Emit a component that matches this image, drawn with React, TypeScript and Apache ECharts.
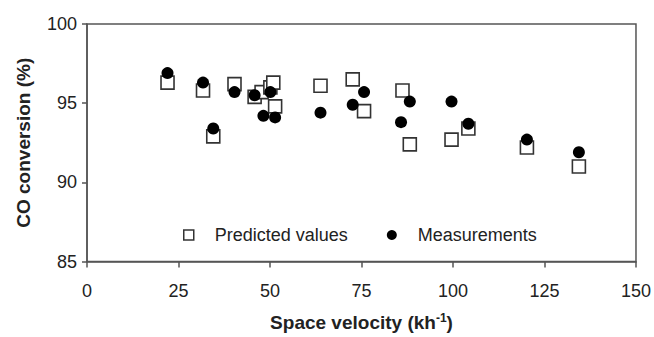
import React, { useEffect, useRef } from "react";
import * as echarts from "echarts";

const predictedX = [22.0, 31.7, 34.5, 40.3, 45.8, 47.7, 50.1, 50.9, 51.4, 63.8, 72.6, 75.7, 86.2, 88.2, 99.6, 104.2, 120.2, 134.4];
const predictedY = [96.3, 95.8, 92.9, 96.2, 95.4, 95.7, 96.0, 96.3, 94.8, 96.1, 96.5, 94.5, 95.8, 92.4, 92.7, 93.4, 92.2, 91.0];
const measuredX = [22.0, 31.7, 34.5, 40.3, 45.8, 48.2, 50.1, 51.4, 63.8, 72.6, 75.7, 85.8, 88.2, 99.6, 104.2, 120.2, 134.4];
const measuredY = [96.9, 96.3, 93.4, 95.7, 95.5, 94.2, 95.7, 94.1, 94.4, 94.9, 95.7, 93.8, 95.1, 95.1, 93.7, 92.7, 91.9];

const seriesNames = ["Predicted values", "Measurements"];
const xAxisTitle = "Space velocity (kh";
const xAxisSup = "-1";
const yAxisTitle = "CO conversion (%)";

const FONT = "'Liberation Sans', Arial, sans-serif";
const AXIS = "#555";
const TXT = "#222";

export default function App() {
  const ref = useRef<HTMLDivElement>(null);
  useEffect(() => {
    if (!ref.current) return;
    const chart = echarts.init(ref.current, undefined, { renderer: "svg" });
    const pred = predictedX.map((x, i) => [x, predictedY[i]]);
    const meas = measuredX.map((x, i) => [x, measuredY[i]]);
    chart.setOption({
      animation: false,
      backgroundColor: "#fff",
      textStyle: { fontFamily: FONT },
      grid: {
        left: 87,
        right: 14,
        top: 24,
        bottom: 70,
        show: true,
        borderColor: AXIS,
        borderWidth: 1.5,
        backgroundColor: "transparent",
      },
      legend: {
        left: 178,
        top: 221,
        itemWidth: 10,
        itemHeight: 10,
        itemGap: 39,
        textStyle: { fontSize: 18, color: TXT, fontFamily: FONT, padding: [0, 0, 0, 16] },
        data: [
          { name: seriesNames[0], icon: "rect", itemStyle: { color: "#fff", borderColor: "#333", borderWidth: 1.5 } },
          { name: seriesNames[1], icon: "circle", itemStyle: { color: "#000", borderWidth: 0 } },
        ],
      },
      xAxis: {
        type: "value",
        min: 0,
        max: 150,
        interval: 25,
        splitLine: { show: false },
        axisLine: { show: true, lineStyle: { color: AXIS, width: 1.5 } },
        axisTick: { show: true, inside: false, length: 6, lineStyle: { color: AXIS, width: 1.5 } },
        axisLabel: { fontSize: 18, color: TXT, margin: 20, fontFamily: FONT },
        name: `{a|${xAxisTitle}}{s|${xAxisSup}}{a|)}`,
        nameLocation: "middle",
        nameGap: 50,
        nameTextStyle: {
          rich: {
            a: { fontSize: 19, fontWeight: "bold", color: TXT, fontFamily: FONT, lineHeight: 22 },
            s: { fontSize: 12, fontWeight: "bold", color: TXT, fontFamily: FONT, verticalAlign: "top", lineHeight: 12 },
          },
        },
      },
      yAxis: {
        type: "value",
        min: 85,
        max: 100,
        interval: 5,
        splitLine: { show: false },
        axisLine: { show: true, lineStyle: { color: AXIS, width: 1.5 } },
        axisTick: { show: true, inside: false, length: 5, lineStyle: { color: AXIS, width: 1.5 } },
        axisLabel: { fontSize: 18, color: TXT, margin: 10, fontFamily: FONT },
        name: yAxisTitle,
        nameLocation: "middle",
        nameGap: 54,
        nameTextStyle: { fontSize: 19, fontWeight: "bold", color: TXT, fontFamily: FONT },
      },
      series: [
        {
          name: seriesNames[0],
          type: "scatter",
          symbol: "rect",
          symbolSize: 13,
          data: pred,
          itemStyle: { color: "#fff", borderColor: "#333", borderWidth: 1.6, opacity: 1 },
          z: 2,
        },
        {
          name: seriesNames[1],
          type: "scatter",
          symbol: "circle",
          symbolSize: 12,
          data: meas,
          itemStyle: { color: "#000", opacity: 1 },
          z: 3,
        },
      ],
    });
    return () => chart.dispose();
  }, []);
  return (
    <div
      ref={ref}
      style={{ position: "fixed", left: 0, top: 0, width: 654, height: 337, background: "#fff" }}
    />
  );
}
